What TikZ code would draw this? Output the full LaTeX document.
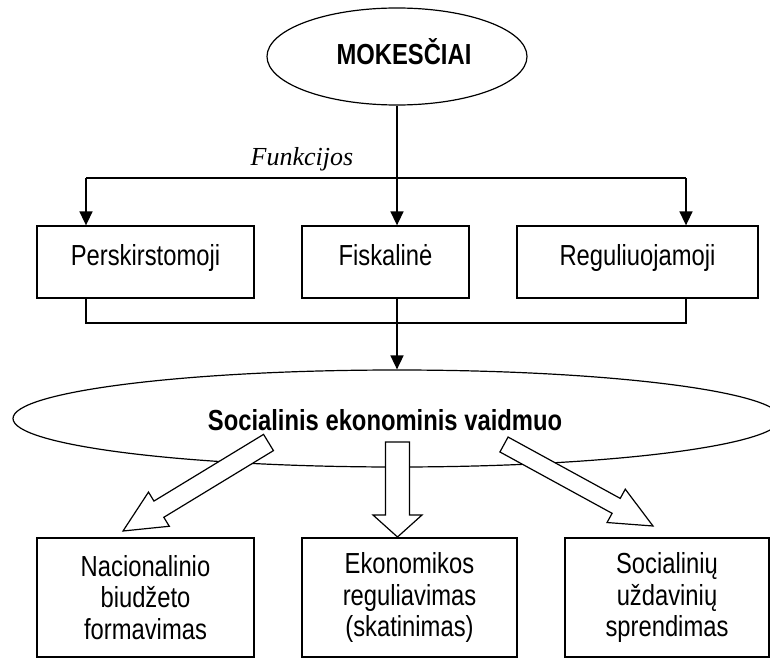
\documentclass[tikz,border=0pt]{standalone}
\usepackage{fontspec}
\setmainfont[FakeStretch=0.82]{Liberation Sans}
\newfontfamily\funcfont{Liberation Serif}
\usetikzlibrary{shapes.geometric,arrows.meta,calc}

\tikzset{
  conn/.style={line width=1.6pt},
  tip/.style={-{Triangle[length=14pt,width=13pt]}},
  oval/.style={draw,ellipse,line width=1.2pt,inner sep=0pt},
  topbox/.style={draw,line width=1.3pt,inner sep=0pt,minimum height=72pt,
    text height=21pt,text depth=15pt,font=\fontsize{29}{31.5}\selectfont},
  lowbox/.style={draw,line width=1.3pt,inner sep=0pt,minimum height=119pt,
    align=center,font=\fontsize{29}{31.5}\selectfont},
  headlabel/.style={anchor=base,inner sep=0pt,font=\bfseries\fontsize{29}{31}\selectfont},
  blockarrow/.style={draw,fill=white,line width=1.2pt,line join=miter},
}

% outline arrow: tail, tip, half shaft width, half head width, head length
\newcommand{\hollowarrow}[5]{%
  \coordinate (hb) at ($(#2)!#5!(#1)$);
  \draw[blockarrow]
    ($(#1)!#3!90:(#2)$) -- ($(hb)!#3!90:(#2)$) -- ($(hb)!#4!90:(#2)$) -- (#2)
    -- ($(hb)!#4!-90:(#2)$) -- ($(hb)!#3!-90:(#2)$) -- ($(#1)!#3!-90:(#2)$) -- cycle;
}

\begin{document}
\begin{tikzpicture}[x=1pt,y=-1pt]
  \useasboundingbox[fill=white] (0,0) rectangle (770,658);

  % taxes
  \node[oval,minimum width=260pt,minimum height=97pt] (tax) at (397,56.5) {};
  \node[headlabel] (taxlabel) at (404,65) {MOKESČIAI};

  % functions
  \node[anchor=base,inner sep=0pt,font=\funcfont\itshape\fontsize{26}{28}\selectfont]
    (funclabel) at (302,165) {Funkcijos};

  \node[topbox,minimum width=217pt] (pers) at (145.5,262) {Perskirstomoji};
  \node[topbox,minimum width=167pt] (fisk) at (385.5,262) {Fiskalinė};
  \node[topbox,minimum width=241pt] (reg)  at (637.5,262) {Reguliuojamoji};

  \coordinate (hl) at (86,178);
  \coordinate (hr) at (686,178);
  \coordinate (jl) at (86,323);
  \coordinate (jr) at (686,323);

  \draw[conn,tip] (tax.south) -- (tax.south |- fisk.north);
  \draw[conn] (hl) -- (hr);
  \draw[conn,tip] (hl) -- (hl |- pers.north);
  \draw[conn,tip] (hr) -- (hr |- reg.north);
  \draw[conn] (hl |- pers.south) -- (jl) -- (jr) -- (hr |- reg.south);

  % role
  \node[oval,minimum width=768pt,minimum height=97pt] (role) at (397,418.5) {};
  \draw[conn,tip] (tax.south |- fisk.south) -- (role.north);

  % outcomes
  \node[lowbox,minimum width=217pt] (nat) at (145.5,597.5)
    {Nacionalinio\\biudžeto\\formavimas};
  \node[lowbox,minimum width=215pt] (eco) at (409.5,597.5)
    {Ekonomikos\\reguliavimas\\(skatinimas)};
  \node[lowbox,minimum width=204pt] (soc) at (667,597.5)
    {Socialinių\\uždavinių\\sprendimas};

  \coordinate (a1t) at (268.5,442.5);
  \coordinate (a1h) at (123,531);
  \coordinate (a2t) at (397.5,442);
  \coordinate (a2h) at (397.5,537);
  \coordinate (a3t) at (504,444.5);
  \coordinate (a3h) at (653,526);

  \hollowarrow{a1t}{a1h}{9.5pt}{20pt}{42pt}
  \hollowarrow{a2t}{a2h}{12pt}{24.5pt}{22pt}
  \hollowarrow{a3t}{a3h}{8.5pt}{19pt}{42pt}

  \node[headlabel] (rolelabel) at (385,430) {Socialinis ekonominis vaidmuo};
\end{tikzpicture}
\end{document}
